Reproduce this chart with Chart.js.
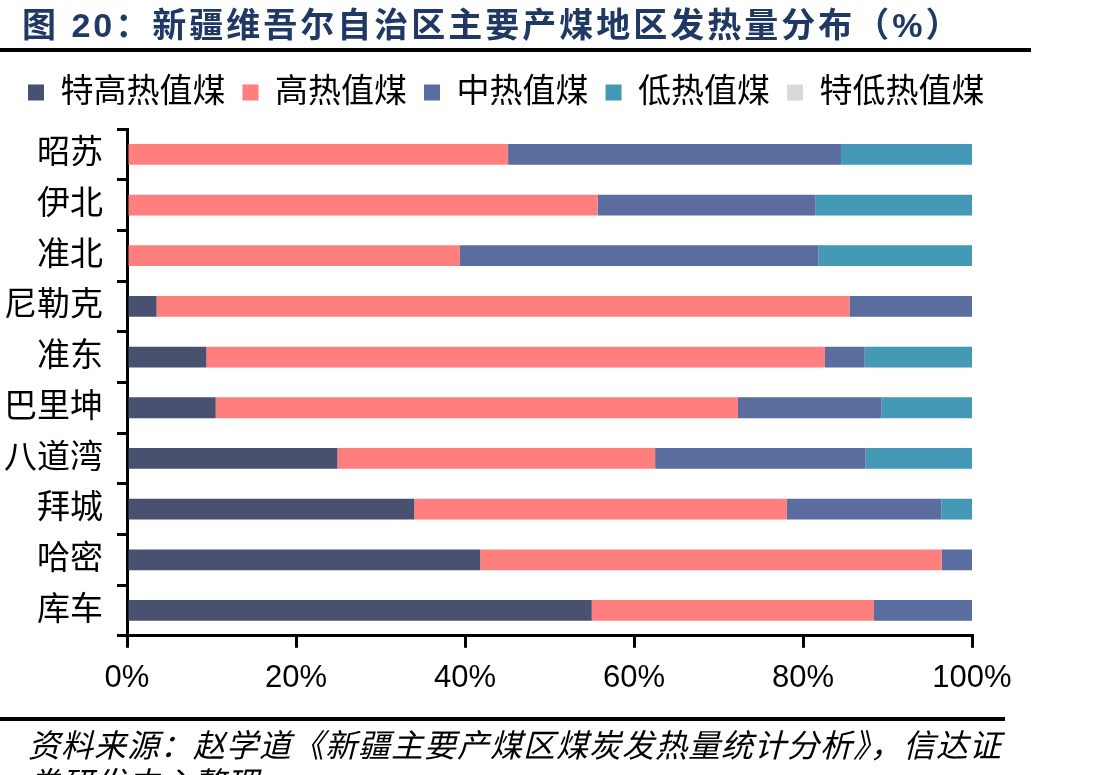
<!DOCTYPE html>
<html>
<head>
<meta charset="utf-8">
<script src="https://cdn.jsdelivr.net/npm/chart.js@4/dist/chart.umd.min.js"></script>
<style>
  html, body { margin: 0; padding: 0; background: #fff; width: 1113px; height: 775px; overflow: hidden; }
  #wrap { position: relative; width: 1113px; height: 775px; overflow: hidden; }
  #chart { position: absolute; left: 0; top: 0; }
  .title { position: absolute; left: 22px; top: 5px; font: bold 34px "Liberation Sans", "Noto Sans CJK SC", sans-serif;
           color: #1f3864; letter-spacing: 3px; line-height: 40px; white-space: nowrap; }
  .rule { position: absolute; left: 0; height: 4px; background: #000; }
  .source { position: absolute; left: 28px; top: 724px; width: 990px; font: italic 32px "Noto Sans CJK SC", sans-serif;
            color: #000; letter-spacing: 1px; line-height: 38px; }
</style>
</head>
<body>
<div id="wrap">
  <canvas id="chart" width="1113" height="775"></canvas>
  <div class="title">图 20：新疆维吾尔自治区主要产煤地区发热量分布（%）</div>
  <div class="rule" style="top:48px;width:1031px;"></div>
  <div class="rule" style="top:717px;width:1005px;"></div>
  <div class="source">资料来源：赵学道《新疆主要产煤区煤炭发热量统计分析》，信达证券研发中心整理</div>
</div>
<script>
// ---- data ----
const categories = ['昭苏', '伊北', '准北', '尼勒克', '准东', '巴里坤', '八道湾', '拜城', '哈密', '库车'];
const seriesNames = ['特高热值煤', '高热值煤', '中热值煤', '低热值煤', '特低热值煤'];
const superHigh = [0, 0, 0, 3.5, 9.4, 10.5, 24.9, 34.0, 41.8, 55.0];
const high      = [45.1, 55.7, 39.4, 82.0, 73.2, 61.8, 37.6, 44.1, 54.6, 33.4];
const medium    = [39.4, 25.8, 42.4, 14.5, 4.7, 17.0, 24.9, 18.3, 3.6, 11.6];
const low       = [15.5, 18.5, 18.2, 0, 12.7, 10.7, 12.6, 3.6, 0, 0];
const superLow  = [0, 0, 0, 0, 0, 0, 0, 0, 0, 0];
const xTicks = [0, 20, 40, 60, 80, 100];

const colors = ['#48516f', '#ff7f7f', '#5b6c9f', '#4399b6', '#d9d9d9'];
const seriesValues = [superHigh, high, medium, low, superLow];

const cjk = '"Liberation Sans", "Noto Sans CJK SC", sans-serif';

new Chart(document.getElementById('chart'), {
  type: 'bar',
  data: {
    labels: categories,
    datasets: seriesNames.map((name, i) => ({
      label: name,
      data: seriesValues[i],
      backgroundColor: colors[i],
      borderWidth: 0,
      barPercentage: 0.41,
      categoryPercentage: 1.0
    }))
  },
  options: {
    indexAxis: 'y',
    responsive: false,
    animation: false,
    layout: { padding: { left: 4, right: 104.5, top: 59, bottom: 66 } },
    plugins: {
      tooltip: { enabled: false },
      legend: {
        position: 'top',
        align: 'center',
        labels: {
          boxWidth: 16,
          boxHeight: 16,
          padding: 17,
          color: '#000',
          font: { family: cjk, size: 33 }
        }
      },
      subtitle: {
        display: true,
        text: '',
        weight: 500,
        padding: 0,
        font: { size: 8.34, lineHeight: 1.2 }
      }
    },
    scales: {
      x: {
        stacked: true,
        min: 0,
        max: 100,
        afterBuildTicks: (axis) => { axis.ticks = xTicks.map(v => ({ value: v })); },
        afterFit: (axis) => { axis.paddingRight = 141; },
        grid: { display: true, drawOnChartArea: false, drawTicks: true, tickLength: 12, color: '#000', lineWidth: 3 },
        border: { display: true, color: '#000', width: 3 },
        ticks: {
          color: '#000',
          padding: 12,
          maxRotation: 0,
          font: { family: '"Liberation Sans", Arial, sans-serif', size: 31 },
          callback: (v) => v + '%'
        }
      },
      y: {
        stacked: true,
        afterFit: (axis) => { axis.width = 123; },
        grid: { display: true, drawOnChartArea: false, drawTicks: true, tickLength: 10, color: '#000', lineWidth: 3, offset: true },
        border: { display: true, color: '#000', width: 3 },
        ticks: {
          color: '#000',
          padding: 14,
          font: { family: cjk, size: 33 }
        }
      }
    }
  }
});
</script>
</body>
</html>
